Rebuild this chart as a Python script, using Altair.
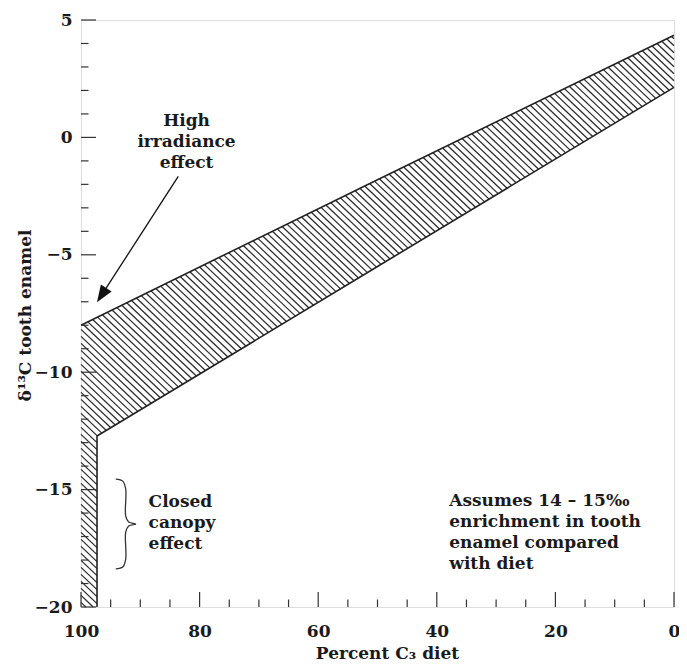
import math
import altair as alt

# ---------------- data ----------------
upper_x = [100, 50, 0]
upper_y = [-8.0, -1.8, 4.35]
lower_x = [97.3, 50, 0]
lower_y = [-12.72, -5.5, 2.13]
y_floor = -20

x_major = [100, 80, 60, 40, 20, 0]
x_minor = [95, 90, 85, 75, 70, 65, 55, 50, 45, 35, 30, 25, 15, 10, 5]
y_major = [-20, -15, -10, -5, 0, 5]
y_minor = [-19, -18, -17, -16, -14, -13, -12, -11, -9, -8, -7, -6,
           -4, -3, -2, -1, 1, 2, 3, 4]

arrow_start = (83.6, -1.66)
arrow_tip = (97.3, -7.02)

brace_x = [94.14, 92.96, 92.46, 92.46, 91.96, 90.79, 91.96, 92.46, 92.46, 92.96, 94.14]
brace_y = [-14.55, -14.64, -14.98, -16.13, -16.38, -16.47, -16.55, -16.81, -17.96, -18.30, -18.38]

# y = centre of the first line of each note
labels = [
    {"x": 82.2, "y": 0.68, "text": ["High", "irradiance", "effect"], "align": "center"},
    {"x": 88.6, "y": -15.53, "text": ["Closed", "canopy", "effect"], "align": "left"},
    {"x": 37.9, "y": -15.49, "text": ["Assumes 14 \u2013 15\u2030", "enrichment in tooth",
                                       "enamel compared", "with diet"], "align": "left"},
]

# ---------------- geometry helpers (pixel <-> data) ----------------
W, H = 593, 587
XD = (100, 0)
YD = (-20, 5)


def to_px(x, y):
    return ((XD[0] - x) / (XD[0] - XD[1]) * W, (YD[1] - y) / (YD[1] - YD[0]) * H)


def to_data(px, py):
    return (XD[0] - px / W * (XD[0] - XD[1]), YD[1] - py / H * (YD[1] - YD[0]))


poly = ([(upper_x[0], y_floor)] + list(zip(upper_x, upper_y))
        + list(zip(lower_x, lower_y))[::-1] + [(lower_x[0], y_floor)])
ppoly = [to_px(x, y) for x, y in poly]

slope = 0.95
step = 7.0
cvals = [py - slope * px for px, py in ppoly]
hatch = []
c = min(cvals) + step / 2
while c < max(cvals):
    xs = []
    n = len(ppoly)
    for i in range(n):
        P, Q = ppoly[i], ppoly[(i + 1) % n]
        a = P[1] - slope * P[0] - c
        b = Q[1] - slope * Q[0] - c
        if (a > 0) != (b > 0):
            u = a / (a - b)
            xs.append(P[0] + u * (Q[0] - P[0]))
    xs.sort()
    for k in range(0, len(xs) - 1, 2):
        x1d, y1d = to_data(xs[k], slope * xs[k] + c)
        x2d, y2d = to_data(xs[k + 1], slope * xs[k + 1] + c)
        hatch.append({"x": x1d, "y": y1d, "x2": x2d, "y2": y2d})
    c += step

outline = []
for i, (x, y) in enumerate(zip(upper_x, upper_y)):
    outline.append({"p": "u", "o": i, "x": x, "y": y})
low_path = list(zip(lower_x, lower_y))[::-1] + [(lower_x[0], y_floor)]
for i, (x, y) in enumerate(low_path):
    outline.append({"p": "l", "o": i, "x": x, "y": y})

brace = [{"o": i, "x": x, "y": y} for i, (x, y) in enumerate(zip(brace_x, brace_y))]

sp = to_px(*arrow_start)
tp = to_px(*arrow_tip)
dpx, dpy = tp[0] - sp[0], tp[1] - sp[1]
head_len = 17
angle = math.degrees(math.atan2(dpx, -dpy)) % 360
L = math.hypot(dpx, dpy)
base_px = (tp[0] - dpx / L * (head_len - 2), tp[1] - dpy / L * (head_len - 2))
base = to_data(*base_px)
arrow_line = [{"o": 0, "x": arrow_start[0], "y": arrow_start[1]},
              {"o": 1, "x": base[0], "y": base[1]}]

# ---------------- encodings ----------------
FONT = "DejaVu Serif"
FS = 17
WEIGHT = "bold"
INK = "#1a1a1a"
xscale = alt.Scale(domain=[0, 100], reverse=True, nice=False, zero=False)
yscale = alt.Scale(domain=[-20, 5], nice=False, zero=False)
xaxis = alt.Axis(values=x_major, title="Percent C\u2083 diet", grid=False, domain=False,
                 ticks=False, tickSize=0, labelPadding=29, labelBaseline="alphabetic",
                 labelFont=FONT, labelFontSize=FS, labelFontWeight=WEIGHT, labelColor=INK,
                 titleFont=FONT, titleFontSize=FS, titleFontWeight=WEIGHT, titleColor=INK,
                 titleX=306, titleY=51, titleBaseline="alphabetic", titleAlign="center",
                 labelFlush=False, labelOverlap=False)
yaxis = alt.Axis(values=y_major, title="\u03b4\u00b9\u00b3C tooth enamel", grid=False, domain=False,
                 ticks=False, tickSize=0, labelPadding=9, labelBaseline="middle",
                 labelFont=FONT, labelFontSize=FS, labelFontWeight=WEIGHT, labelColor=INK,
                 titleFont=FONT, titleFontSize=FS, titleFontWeight=WEIGHT, titleColor=INK,
                 titleX=-56, titleY=295, titleAngle=-90, titleBaseline="middle", titleAlign="center",
                 labelFlush=False, labelOverlap=False)


def X(f="x"):
    return alt.X(f, type="quantitative", scale=xscale, axis=xaxis)


def Y(f="y"):
    return alt.Y(f, type="quantitative", scale=yscale, axis=yaxis)


hatch_layer = alt.Chart(alt.Data(values=hatch)).mark_rule(
    color="#2a2a2a", strokeWidth=1.25).encode(x=X(), y=Y(), x2="x2:Q", y2="y2:Q")

outline_layer = alt.Chart(alt.Data(values=outline)).mark_line(
    color="#222", strokeWidth=1.6).encode(x=X(), y=Y(), detail="p:N", order="o:Q")

ytick_major = alt.Chart(alt.Data(values=[{"y": v} for v in y_major])).mark_rule(
    color="#333", strokeWidth=1.2).encode(y=Y(), x=alt.value(0), x2=alt.value(15))
ytick_minor = alt.Chart(alt.Data(values=[{"y": v} for v in y_minor])).mark_rule(
    color="#333", strokeWidth=1.2).encode(y=Y(), x=alt.value(0), x2=alt.value(7.5))
xtick_major = alt.Chart(alt.Data(values=[{"x": v} for v in x_major])).mark_rule(
    color="#333", strokeWidth=1.2).encode(x=X(), y=alt.value(H), y2=alt.value(H - 15))
xtick_minor = alt.Chart(alt.Data(values=[{"x": v} for v in x_minor])).mark_rule(
    color="#333", strokeWidth=1.2).encode(x=X(), y=alt.value(H), y2=alt.value(H - 7.5))

text_layers = []
for lab in labels:
    text_layers.append(
        alt.Chart(alt.Data(values=[{"x": lab["x"], "y": lab["y"]}])).mark_text(
            text=lab["text"], align=lab["align"], baseline="middle", font=FONT,
            fontSize=FS, fontWeight=WEIGHT, lineHeight=21, color=INK).encode(x=X(), y=Y())
    )

brace_layer = alt.Chart(alt.Data(values=brace)).mark_line(
    color="#333", strokeWidth=1.3, interpolate="catmull-rom").encode(x=X(), y=Y(), order="o:Q")

arrow_layer = alt.Chart(alt.Data(values=arrow_line)).mark_line(
    color="#111", strokeWidth=1.3).encode(x=X(), y=Y(), order="o:Q")

head_layer = alt.Chart(alt.Data(values=[{"x": arrow_tip[0], "y": arrow_tip[1]}])).mark_point(
    shape="M0,0L-0.75,2L0.75,2Z", angle=round(angle, 2), size=head_len ** 2,
    filled=True, color="#111", opacity=1).encode(x=X(), y=Y())

chart = alt.layer(
    hatch_layer, outline_layer, ytick_major, ytick_minor, xtick_major, xtick_minor,
    *text_layers, brace_layer, arrow_layer, head_layer
).properties(
    width=W, height=H,
    padding={"left": 73, "top": 12, "right": 5, "bottom": 54},
    autosize=alt.AutoSizeParams(type="none"),
).configure_view(stroke="#222", strokeWidth=1.5).configure(background="white")

chart.save("out.html", embed_options={"renderer": "svg", "actions": False})
